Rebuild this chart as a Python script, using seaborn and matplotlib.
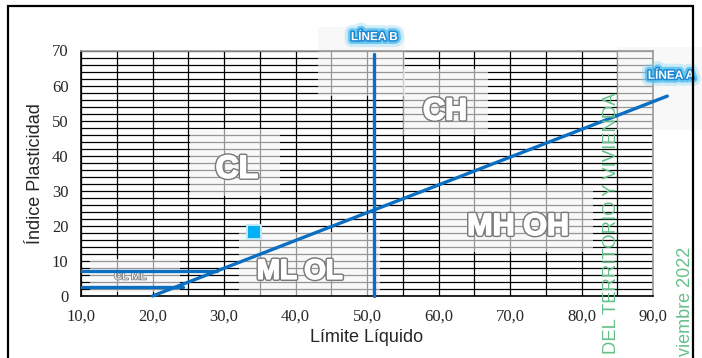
import numpy as np
import pandas as pd
import matplotlib
matplotlib.use("Agg")
import matplotlib.pyplot as plt
import matplotlib.patheffects as pe
from matplotlib.patches import Rectangle
from matplotlib.ticker import FuncFormatter
import seaborn as sns

# ---- data ----
linea_a_ll = [20.0, 92.0]
linea_a_ip = [0.0, 57.0]
linea_b_ll = [51.0, 51.0]
linea_b_ip = [0.0, 69.0]
clml_sup_ll = [10.0, 29.0]
clml_sup_ip = [7.0, 7.0]
clml_inf_ll = [10.0, 24.3]
clml_inf_ip = [2.6, 2.6]
muestra_ll = [34.2]
muestra_ip = [18.3]
x_ticks = [10, 20, 30, 40, 50, 60, 70, 80, 90]
y_ticks = [0, 10, 20, 30, 40, 50, 60, 70]
zonas = ["CL", "CH", "MH OH", "ML OL", "CL ML"]

sns.set_style("white")
plt.rcParams["font.family"] = ["Liberation Sans", "DejaVu Sans"]

fig = plt.figure(figsize=(7.02, 3.58), dpi=100)
ax = fig.add_axes([81/702, 1-296/358, (653-81)/702, (296-50.5)/358])

ax.set_xlim(10, 90)
ax.set_ylim(0, 70)
ax.set_xticks(x_ticks)
ax.set_xticks(np.arange(10, 91, 5), minor=True)
ax.set_yticks(y_ticks)
ax.set_yticks(np.arange(0, 71, 2), minor=True)
ax.set_axisbelow(True)
ax.grid(which="both", color="black", linewidth=0.9)
ax.tick_params(which="minor", length=0)
ax.tick_params(which="major", direction="out", length=5, width=1, color="black",
               labelsize=12, pad=4)
ax.xaxis.set_major_formatter(FuncFormatter(lambda v, p: f"{v:.1f}".replace(".", ",")))
for lab in ax.get_xticklabels() + ax.get_yticklabels():
    lab.set_family(["Liberation Serif", "DejaVu Serif"])
for s in ["left", "bottom"]:
    ax.spines[s].set_color("black")
    ax.spines[s].set_linewidth(1.2)
for s in ["top", "right"]:
    ax.spines[s].set_color("#9a9a9a")
    ax.spines[s].set_linewidth(1.2)

# translucent label boxes
def box(x0, x1, y0, y1):
    ax.add_patch(Rectangle((x0, y0), x1-x0, y1-y0, facecolor="#f4f4f4", alpha=0.62,
                           edgecolor="none", zorder=1, clip_on=False))

box(25.2, 37.8, 28.6, 47.7)   # CL
box(55.0, 66.9, 46.0, 64.6)   # CH
box(60.2, 81.6, 12.6, 31.7)   # MH OH
box(32.1, 51.8, 0.0, 18.3)    # ML OL
box(11.3, 23.8, 1.1, 10.6)    # CL ML
box(43.1, 55.3, 56.9, 76.6)   # Linea B
box(85.0, 97.0, 47.4, 71.1)   # Linea A

blue = "#0a6fc2"
lw = 2.4
sns.lineplot(x=linea_a_ll, y=linea_a_ip, ax=ax, color=blue, linewidth=lw,
             sort=False, estimator=None, zorder=4, clip_on=False)
sns.lineplot(x=linea_b_ll, y=linea_b_ip, ax=ax, color=blue, linewidth=lw,
             sort=False, estimator=None, zorder=4, clip_on=False)
sns.lineplot(x=clml_sup_ll, y=clml_sup_ip, ax=ax, color=blue, linewidth=lw,
             sort=False, estimator=None, zorder=4)
sns.lineplot(x=clml_inf_ll, y=clml_inf_ip, ax=ax, color=blue, linewidth=lw,
             sort=False, estimator=None, zorder=4)
sns.scatterplot(x=muestra_ll, y=muestra_ip, ax=ax, marker="s", s=110,
                color="#00b0f0", edgecolor="#bfe9fb", linewidth=1.5, zorder=5)

# zone labels
def zona(t, x, y, fs, w=3.2):
    outline = [pe.Stroke(linewidth=w, foreground="#7a7a7a"),
               pe.Stroke(linewidth=w*0.35, foreground="white"), pe.Normal()]
    ax.text(x, y, t, ha="center", va="center", fontsize=fs, fontweight="bold",
            color="white", path_effects=outline, zorder=3)

zona(zonas[0], 31.8, 36.0, 23)
zona(zonas[1], 60.9, 52.6, 22)
zona(zonas[2], 71.1, 19.7, 22)
zona(zonas[3], 40.6, 6.9, 20)
ax.text(16.9, 5.6, zonas[4], ha="center", va="center", fontsize=8,
        color="white", zorder=3,
        path_effects=[pe.Stroke(linewidth=1.4, foreground="#8a8a8a"), pe.Normal()])

glow = [pe.Stroke(linewidth=10, foreground="#7fd3f7", alpha=0.35),
        pe.Stroke(linewidth=5.5, foreground="#3fb8ef", alpha=0.7),
        pe.Stroke(linewidth=2.2, foreground="#1e88d0"), pe.Normal()]
ax.text(51.0, 73.8, "LÍNEA B", ha="center", va="center", fontsize=8.5,
        fontweight="bold", color="white", path_effects=glow, zorder=6, clip_on=False)
ax.text(92.5, 62.8, "LÍNEA A", ha="center", va="center", fontsize=8.5,
        fontweight="bold", color="white", path_effects=glow, zorder=6, clip_on=False)

ax.set_xlabel("Límite Líquido", fontsize=13, labelpad=3)
ax.set_ylabel("Índice Plasticidad", fontsize=13, labelpad=6)

# watermark fragments
green = "#66c08a"
fig.text(612/702, 1-92/358, "DEL TERRITORIO Y VIVIENDA", rotation=90, ha="center",
         va="top", fontsize=13.3, color=green)
fig.text(686/702, 1-356/358, "viembre 2022", rotation=90, ha="center",
         va="bottom", fontsize=13, color=green)

# outer frame
fig.patches.append(Rectangle((8/702, -0.1), (693-8)/702, 1.1-6/358, transform=fig.transFigure,
                             fill=False, edgecolor="black", linewidth=1.6, zorder=10))

fig.savefig("out.png", dpi=100)
